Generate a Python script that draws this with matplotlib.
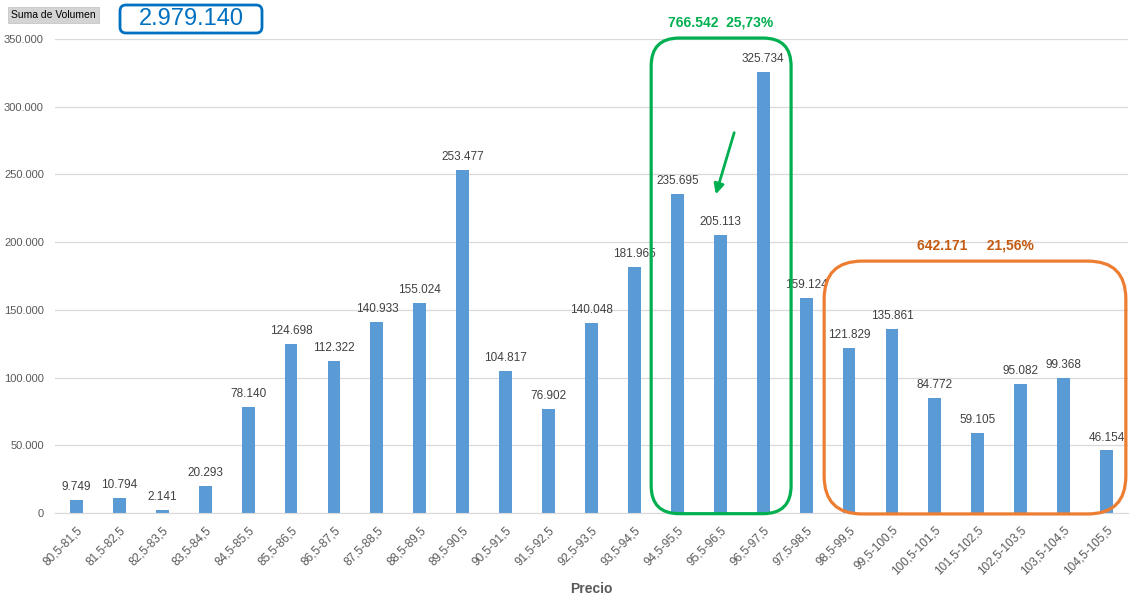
import matplotlib
matplotlib.use("Agg")
import matplotlib.pyplot as plt
from matplotlib.patches import FancyBboxPatch, FancyArrowPatch

plt.rcParams['font.family'] = ['Liberation Sans', 'DejaVu Sans']

precios = ["80,5-81,5", "81,5-82,5", "82,5-83,5", "83,5-84,5", "84,5-85,5",
           "85,5-86,5", "86,5-87,5", "87,5-88,5", "88,5-89,5", "89,5-90,5",
           "90,5-91,5", "91,5-92,5", "92,5-93,5", "93,5-94,5", "94,5-95,5",
           "95,5-96,5", "96,5-97,5", "97,5-98,5", "98,5-99,5", "99,5-100,5",
           "100,5-101,5", "101,5-102,5", "102,5-103,5", "103,5-104,5",
           "104,5-105,5"]
volumen = [9749, 10794, 2141, 20293, 78140, 124698, 112322, 140933, 155024,
           253477, 104817, 76902, 140048, 181965, 235695, 205113, 325734,
           159124, 121829, 135861, 84772, 59105, 95082, 99368, 46154]
grupo_verde = [14, 15, 16]
grupo_naranja = [18, 19, 20, 21, 22, 23, 24]


def miles(v):
    return f"{v:,.0f}".replace(",", ".")


W, H = 1140, 605
fig = plt.figure(figsize=(W / 100, H / 100), dpi=100)
ax = fig.add_axes([55 / W, 1 - 513 / H, 1073 / W, 474 / H])

x = list(range(len(precios)))
ax.bar(x, volumen, width=0.3, color="#5b9bd5", zorder=2)
for xi, v in zip(x, volumen):
    ax.annotate(miles(v), (xi, v), xytext=(0, 5), textcoords="offset points",
                ha="center", va="bottom", fontsize=8.5, color="#404040")

ax.set_xlim(-0.5, len(precios) - 0.5)
ax.set_ylim(0, 350000)
ax.set_yticks(range(0, 350001, 50000))
ax.set_yticklabels([miles(t) for t in range(0, 350001, 50000)],
                   fontsize=8, color="#595959")
ax.set_xticks(x)
ax.set_xticklabels(precios, rotation=45, ha="right", rotation_mode="anchor",
                   fontsize=8.5, color="#595959")
ax.tick_params(length=0)
ax.tick_params(axis="x", pad=8)
ax.tick_params(axis="y", pad=8)
ax.grid(axis="y", color="#d9d9d9", lw=0.9, zorder=0)
for s in ["top", "right", "left"]:
    ax.spines[s].set_visible(False)
ax.spines["bottom"].set_color("#d9d9d9")
ax.set_xlabel("Precio", fontsize=10, fontweight="bold", color="#595959",
              labelpad=3)

total = sum(volumen)
suma_verde = sum(volumen[i] for i in grupo_verde)
suma_naranja = sum(volumen[i] for i in grupo_naranja)


def pct(v):
    return f"{100 * v / total:.2f}%".replace(".", ",")


def caja(i0, i1, y0, y1, color, r):
    (px0, py0) = ax.transData.transform((i0, y0))
    (px1, py1) = ax.transData.transform((i1, y1))
    p = FancyBboxPatch((px0 + r, py0 + r), px1 - px0 - 2 * r, py1 - py0 - 2 * r,
                       boxstyle=f"round,pad={r}", transform=None,
                       fill=False, ec=color, lw=2.3, zorder=5, clip_on=False)
    fig.patches.append(p)
    return px0, px1, py1


gx0, gx1, gy1 = caja(grupo_verde[0] - 0.61, grupo_verde[-1] + 0.65, -500, 350700,
                     "#00b050", 28)
fig.text((gx0 + gx1) / 2 / W, (gy1 + 16) / H,
         f"{miles(suma_verde)}  {pct(suma_verde)}", ha="center", va="center",
         fontsize=10, fontweight="bold", color="#00b050")

ox0, ox1, oy1 = caja(grupo_naranja[0] - 0.58, grupo_naranja[-1] + 0.45, -700, 186000,
                     "#ed7d31", 38)
fig.text((ox0 + ox1) / 2 / W, (oy1 + 16) / H,
         f"{miles(suma_naranja)}     {pct(suma_naranja)}", ha="center",
         va="center", fontsize=10, fontweight="bold", color="#c55a11")

flecha = FancyArrowPatch((735, H - 130), (715, H - 197), transform=None,
                         arrowstyle="-|>,head_length=6,head_width=3",
                         color="#00b050", lw=2, zorder=6)
fig.patches.append(flecha)

fig.text(11 / W, 1 - 15 / H, "Suma de Volumen", fontsize=7.5, color="#000000",
         ha="left", va="center",
         bbox=dict(boxstyle="square,pad=0.3", fc="#d4d4d4", ec="#c0c0c0", lw=0.5))

tb = FancyBboxPatch((126, H - 27), 130, 16, boxstyle="round,pad=6",
                    transform=None, fill=False, ec="#0070c0", lw=2)
fig.patches.append(tb)
fig.text(191 / W, 1 - 19 / H, miles(total), fontsize=17, color="#0070c0",
         ha="center", va="center")

fig.savefig("out.png", dpi=100)
